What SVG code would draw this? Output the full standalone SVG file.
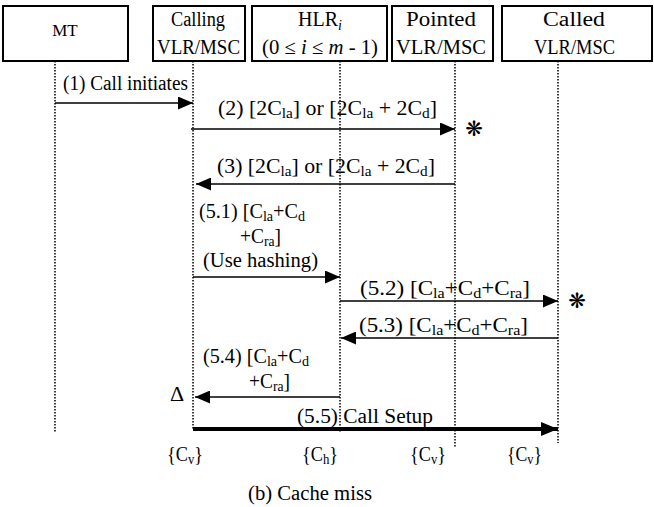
<svg xmlns="http://www.w3.org/2000/svg" width="654" height="507" viewBox="0 0 654 507">
<style>
.box{fill:#fff;stroke:#000;stroke-width:2}
.life{stroke:#000;stroke-width:1.5;stroke-dasharray:1.5,1.5;fill:none}
.msg{stroke:#000;stroke-width:1.6;fill:none}
.t{font-family:"Liberation Serif","Times New Roman",serif;font-size:20px;fill:#000}
.s{font-size:14px}
.ast{font-family:"DejaVu Sans",sans-serif;font-size:21px;fill:#000}
</style>
<defs>
<marker id="ah" markerUnits="userSpaceOnUse" markerWidth="16" markerHeight="13" refX="15" refY="6.5" orient="auto">
<path d="M0,0 L15,6.5 L0,13 z" fill="#000"/>
</marker>
<marker id="ahb" markerUnits="userSpaceOnUse" markerWidth="18" markerHeight="14" refX="17" refY="7" orient="auto">
<path d="M0,0 L17,7 L0,14 z" fill="#000"/>
</marker>
</defs>
<g id="mt"><rect class="box" x="3" y="6" width="125" height="55"/><text class="t" x="65" y="36" text-anchor="middle" style="font-size:17px">MT</text></g>
<g id="calling"><rect class="box" x="153" y="6" width="92" height="55"/><text class="t" x="198" y="26" text-anchor="middle" textLength="54" lengthAdjust="spacingAndGlyphs">Calling</text><text class="t" x="198.5" y="54" text-anchor="middle" textLength="83" lengthAdjust="spacingAndGlyphs">VLR/MSC</text></g>
<g id="hlr"><rect class="box" x="252" y="6" width="135" height="55"/><text class="t" x="298" y="26">HLR<tspan class="s" font-style="italic" dy="4">i</tspan></text><text class="t" x="262" y="54" textLength="116" lengthAdjust="spacingAndGlyphs">(0 ≤ <tspan font-style="italic">i</tspan> ≤ <tspan font-style="italic">m</tspan> - 1)</text></g>
<g id="pointed"><rect class="box" x="392" y="6" width="101" height="55"/><text class="t" x="441" y="26" text-anchor="middle" textLength="70" lengthAdjust="spacingAndGlyphs">Pointed</text><text class="t" x="441" y="54" text-anchor="middle" textLength="90" lengthAdjust="spacingAndGlyphs">VLR/MSC</text></g>
<g id="called"><rect class="box" x="502" y="6" width="150" height="55"/><text class="t" x="574" y="26" text-anchor="middle" textLength="62" lengthAdjust="spacingAndGlyphs">Called</text><text class="t" x="574.5" y="54" text-anchor="middle" textLength="81" lengthAdjust="spacingAndGlyphs">VLR/MSC</text></g>
<g id="lifelines">
<line class="life" x1="55" y1="61" x2="55" y2="433"/>
<line class="life" x1="193" y1="61" x2="193" y2="430"/>
<line class="life" x1="340" y1="61" x2="340" y2="432"/>
<line class="life" x1="455" y1="61" x2="455" y2="448"/>
<line class="life" x1="558" y1="61" x2="558" y2="443"/>
</g>
<g id="connectors">
<line class="msg" x1="55" y1="103" x2="193" y2="103" marker-end="url(#ah)"/>
<line class="msg" x1="191" y1="129" x2="455" y2="129" marker-end="url(#ah)"/>
<line class="msg" x1="455" y1="184" x2="196" y2="184" marker-end="url(#ah)"/>
<line class="msg" x1="193" y1="277" x2="340" y2="277" marker-end="url(#ah)"/>
<line class="msg" x1="340" y1="301" x2="558" y2="301" marker-end="url(#ah)"/>
<line class="msg" x1="558" y1="338" x2="341" y2="338" marker-end="url(#ah)"/>
<line class="msg" x1="340" y1="397" x2="195" y2="397" marker-end="url(#ah)"/>
<line x1="193" y1="429" x2="558" y2="429" stroke="#000" stroke-width="4" marker-end="url(#ahb)"/>
</g>
<g id="labels">
<text class="t" x="63" y="90" textLength="125" lengthAdjust="spacingAndGlyphs">(1) Call initiates</text>
<text class="t" x="218" y="115" textLength="219" lengthAdjust="spacingAndGlyphs">(2) [2C<tspan class="s" dy="3">la</tspan><tspan dy="-3">] or [2C</tspan><tspan class="s" dy="3">la</tspan><tspan dy="-3"> + 2C</tspan><tspan class="s" dy="3">d</tspan><tspan dy="-3">]</tspan></text>
<text class="ast" x="474" y="136" text-anchor="middle">❋</text>
<text class="t" x="217" y="173" textLength="218" lengthAdjust="spacingAndGlyphs">(3) [2C<tspan class="s" dy="3">la</tspan><tspan dy="-3">] or [2C</tspan><tspan class="s" dy="3">la</tspan><tspan dy="-3"> + 2C</tspan><tspan class="s" dy="3">d</tspan><tspan dy="-3">]</tspan></text>
<text class="t" x="199" y="218" textLength="106" lengthAdjust="spacingAndGlyphs">(5.1) [C<tspan class="s" dy="3">la</tspan><tspan dy="-3">+C</tspan><tspan class="s" dy="3">d</tspan></text>
<text class="t" x="240" y="243" textLength="41" lengthAdjust="spacingAndGlyphs">+C<tspan class="s" dy="3">ra</tspan><tspan dy="-3">]</tspan></text>
<text class="t" x="203" y="267" textLength="115" lengthAdjust="spacingAndGlyphs">(Use hashing)</text>
<text class="t" x="360" y="295" textLength="170" lengthAdjust="spacingAndGlyphs">(5.2) [C<tspan class="s" dy="3">la</tspan><tspan dy="-3">+C</tspan><tspan class="s" dy="3">d</tspan><tspan dy="-3">+C</tspan><tspan class="s" dy="3">ra</tspan><tspan dy="-3">]</tspan></text>
<text class="ast" x="577" y="308" text-anchor="middle">❋</text>
<text class="t" x="359" y="332" textLength="169" lengthAdjust="spacingAndGlyphs">(5.3) [C<tspan class="s" dy="3">la</tspan><tspan dy="-3">+C</tspan><tspan class="s" dy="3">d</tspan><tspan dy="-3">+C</tspan><tspan class="s" dy="3">ra</tspan><tspan dy="-3">]</tspan></text>
<text class="t" x="203" y="363" textLength="106" lengthAdjust="spacingAndGlyphs">(5.4) [C<tspan class="s" dy="3">la</tspan><tspan dy="-3">+C</tspan><tspan class="s" dy="3">d</tspan></text>
<text class="t" x="249" y="388" textLength="41" lengthAdjust="spacingAndGlyphs">+C<tspan class="s" dy="3">ra</tspan><tspan dy="-3">]</tspan></text>
<text class="t" x="170" y="401" style="font-size:22px">Δ</text>
<text class="t" x="297" y="423" textLength="136" lengthAdjust="spacingAndGlyphs">(5.5)  Call Setup</text>
<text class="t" x="167" y="461" textLength="36" lengthAdjust="spacingAndGlyphs" style="font-size:20px">{C<tspan class="s" dy="3">v</tspan><tspan dy="-3">}</tspan></text>
<text class="t" x="302" y="461" textLength="36" lengthAdjust="spacingAndGlyphs" style="font-size:20px">{C<tspan class="s" dy="3">h</tspan><tspan dy="-3">}</tspan></text>
<text class="t" x="410" y="461" textLength="36" lengthAdjust="spacingAndGlyphs" style="font-size:20px">{C<tspan class="s" dy="3">v</tspan><tspan dy="-3">}</tspan></text>
<text class="t" x="507" y="461" textLength="35" lengthAdjust="spacingAndGlyphs" style="font-size:20px">{C<tspan class="s" dy="3">v</tspan><tspan dy="-3">}</tspan></text>
<text class="t" x="248" y="500" textLength="124" lengthAdjust="spacingAndGlyphs" style="font-size:20px">(b) Cache miss</text>
</g>
</svg>
